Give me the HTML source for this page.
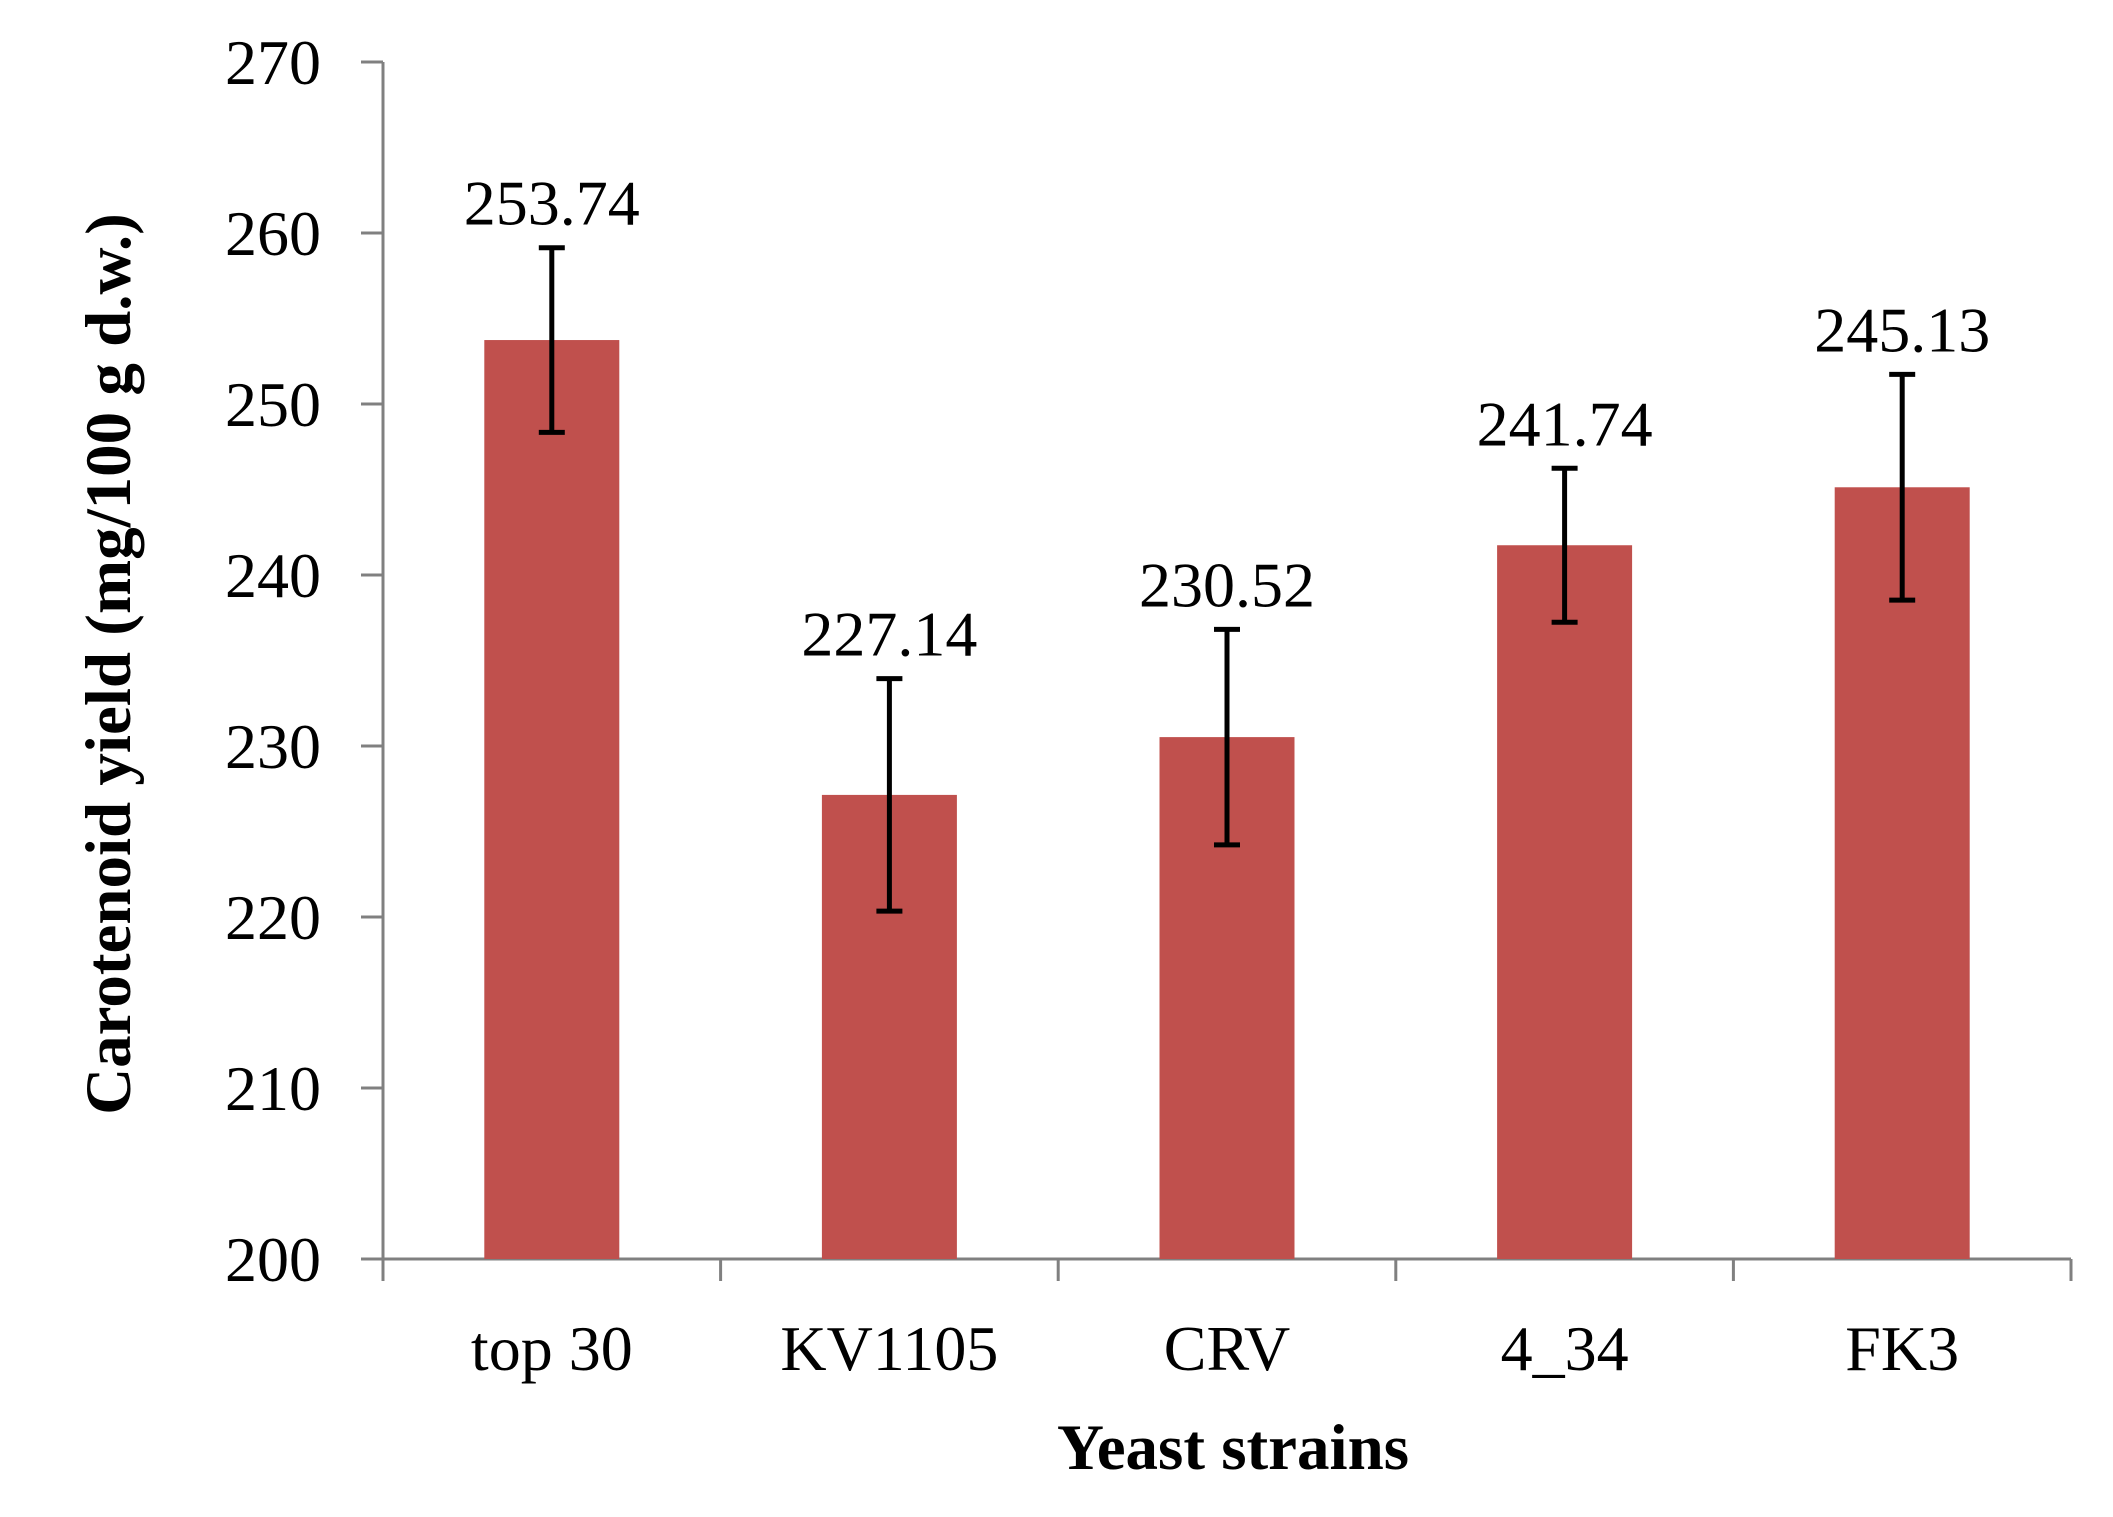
<!DOCTYPE html>
<html><head><meta charset="utf-8"><style>
body{margin:0;background:#fff}
svg text{font-family:"Liberation Serif",serif}
</style></head><body>
<svg id="chart" width="2113" height="1512" xmlns="http://www.w3.org/2000/svg">
<g id="axes"></g><g id="bars"></g>
<text transform="translate(130,664) rotate(-90)" text-anchor="middle" font-size="65" font-weight="bold">Carotenoid yield (mg/100 g d.w.)</text>
<text x="1233" y="1469" text-anchor="middle" font-size="65" font-weight="bold">Yeast strains</text>
</svg>
<script>
const categories=["top 30","KV1105","CRV","4_34","FK3"];
const values=[253.74,227.14,230.52,241.74,245.13];
const errors=[5.4,6.8,6.3,4.5,6.6];
const yTicks=[200,210,220,230,240,250,260,270];
const NS="http://www.w3.org/2000/svg";
const X0=383,X1=2071,Y0=1259,Y1=62,yMin=200,yMax=270;
const y=v=>Y0-(v-yMin)/(yMax-yMin)*(Y0-Y1);
const band=(X1-X0)/categories.length;
const xc=i=>X0+band*(i+0.5);
function mk(tag,attrs,parent){const e=document.createElementNS(NS,tag);for(const k in attrs)e.setAttribute(k,attrs[k]);parent.appendChild(e);return e;}
const ax=document.getElementById('axes'),bg=document.getElementById('bars');
let e=mk('line',{x1:X0,y1:Y1,x2:X0,y2:Y0,stroke:'#808080','stroke-width':3},ax);


e=mk('line',{x1:X0-22,y1:Y0,x2:X1,y2:Y0,stroke:'#808080','stroke-width':3},ax);


yTicks.forEach(t=>{
 const l=mk('line',{x1:X0-22,y1:y(t),x2:X0,y2:y(t),stroke:'#808080','stroke-width':3},ax);
 
 
 const tx=mk('text',{x:321,y:y(t)+22,'text-anchor':'end','font-size':64},ax);
 tx.textContent=t;
 
 
});
for(let i=0;i<=categories.length;i++){
 const l=mk('line',{x1:X0+band*i,y1:Y0,x2:X0+band*i,y2:Y0+22,stroke:'#808080','stroke-width':3},ax);
 
 
}
categories.forEach((c,i)=>{
 const bw=135,cx=xc(i);
 const r=mk('rect',{x:cx-bw/2,y:y(values[i]),width:bw,height:Y0-y(values[i]),fill:'#C0504D'},bg);
 
 
 const hi=y(values[i]+errors[i]),lo=y(values[i]-errors[i]);
 const g=mk('g',{stroke:'#000','stroke-width':5},bg);
 
 
 mk('line',{x1:cx,y1:hi,x2:cx,y2:lo},g);
 mk('line',{x1:cx-13,y1:hi,x2:cx+13,y2:hi},g);
 mk('line',{x1:cx-13,y1:lo,x2:cx+13,y2:lo},g);
 const vt=mk('text',{x:cx,y:hi-23,'text-anchor':'middle','font-size':64},bg);
 vt.textContent=values[i].toFixed(2);
 
 
 const ct=mk('text',{x:cx,y:1370,'text-anchor':'middle','font-size':64},bg);
 ct.textContent=c;
 
 
});
</script>
</body></html>
